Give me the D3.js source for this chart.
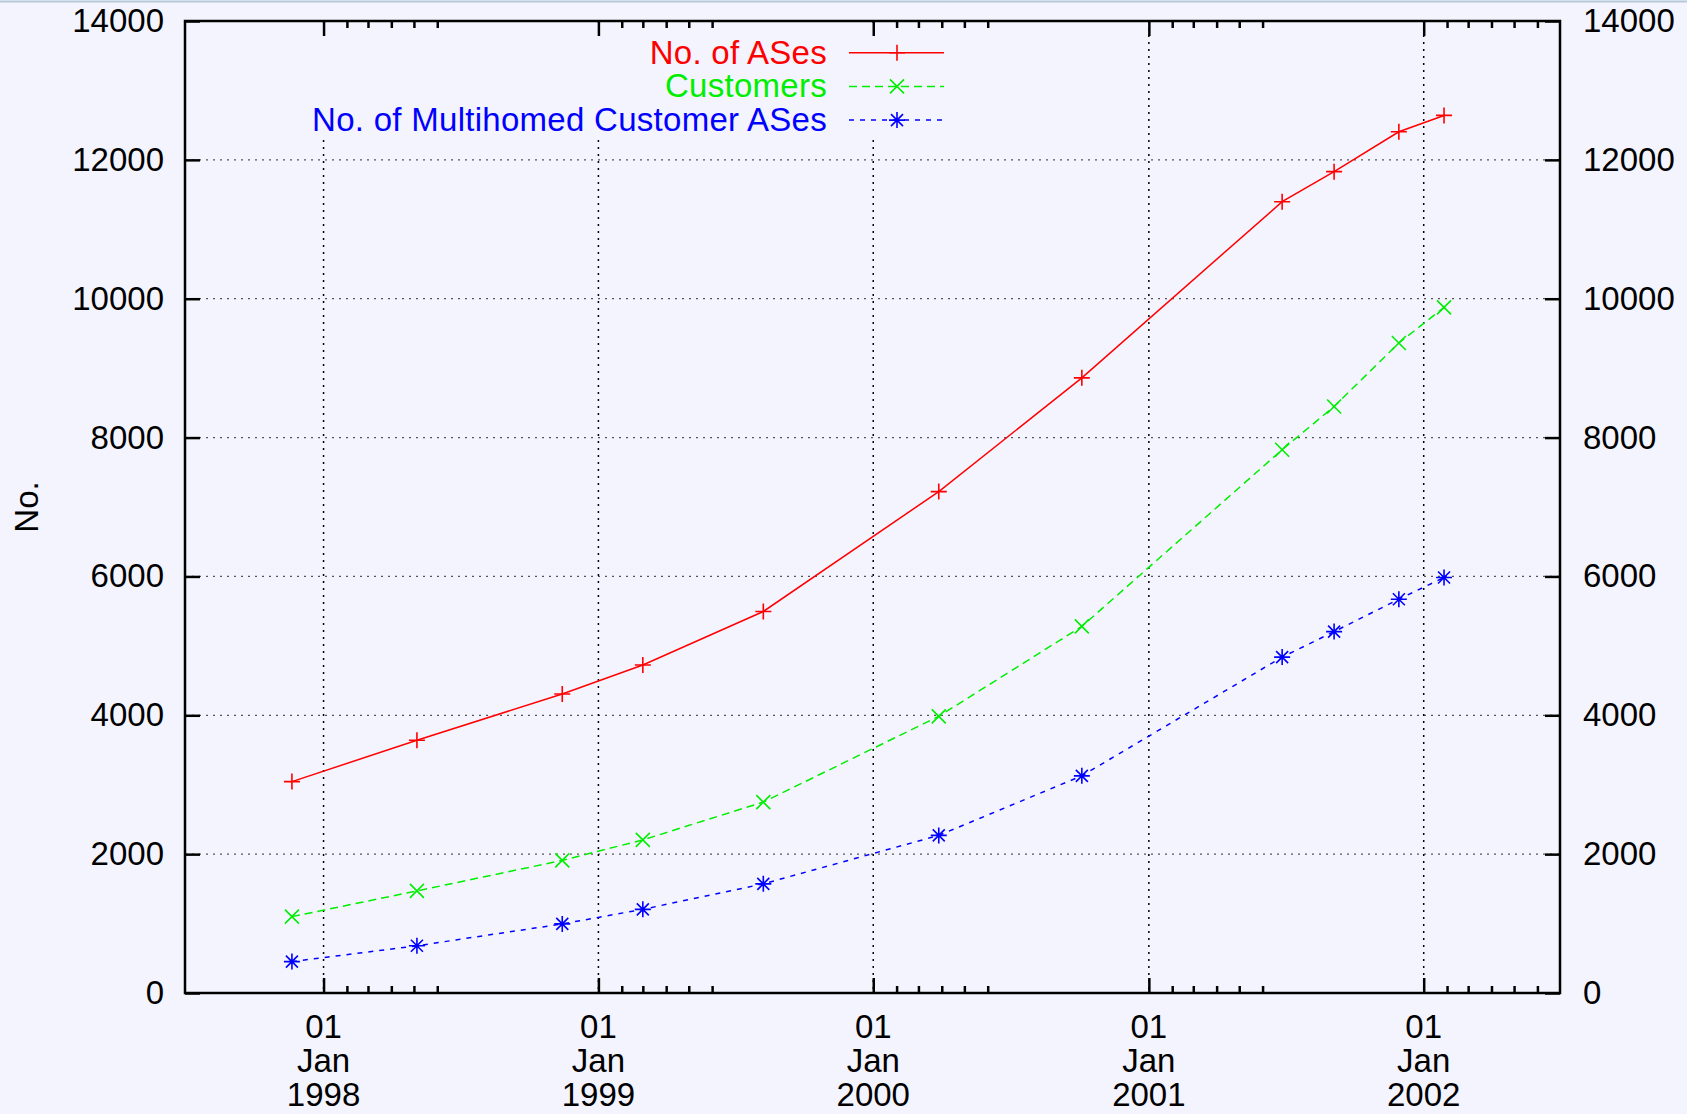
<!DOCTYPE html>
<html>
<head>
<meta charset="utf-8">
<script src="https://d3js.org/d3.v7.min.js"></script>
<style>
  body { margin: 0; background: #f4f4fe; }
  svg { display: block; }
  text { font-family: "Liberation Sans", Arial, Helvetica, sans-serif; fill: #000; }
</style>
</head>
<body>
<script>
// Dimensions
const width  = 1687;
const height = 1114;
const plotLeft = 185, plotRight = 1560, plotTop = 21, plotBottom = 993;
const fontSize = 33;

// Data
const dates = ["1997-11-20", "1998-05-05", "1998-11-14", "1999-03-01", "1999-08-08",
               "2000-03-28", "2000-10-04", "2001-06-27", "2001-09-04", "2001-11-29", "2002-01-28"];
const numASes     = [3045, 3640, 4307, 4724, 5495, 7222, 8860, 11397, 11830, 12405, 12640];
const customers   = [1100, 1470, 1910, 2205, 2750, 3985, 5280, 7825, 8448, 9362, 9875];
const multihomed  = [452, 680, 995, 1205, 1572, 2270, 3128, 4838, 5205, 5672, 5985];
const yTicks      = [0, 2000, 4000, 6000, 8000, 10000, 12000, 14000];
const yearTicks   = [1998, 1999, 2000, 2001, 2002];
const seriesNames = ["No. of ASes", "Customers", "No. of Multihomed Customer ASes"];

const parse = d3.timeParse("%Y-%m-%d");

const svg = d3.select("body").append("svg")
  .attr("width", width)
  .attr("height", height);

svg.append("rect").attr("width", width).attr("height", height).attr("fill", "#f4f4fe");
svg.append("line").attr("x1", 0).attr("x2", width).attr("y1", 1.5).attr("y2", 1.5)
  .attr("stroke", "#b3c9da").attr("stroke-width", 2);

// scales
const x = d3.scaleTime()
  .domain([new Date(1997, 6, 1), new Date(2002, 6, 1)])
  .range([plotLeft, plotRight]);
const y = d3.scaleLinear().domain([0, 14000]).range([plotBottom, plotTop]);

const yearDates = yearTicks.map(yr => new Date(yr, 0, 1));
// gnuplot style minor ticks: Feb..Jun after each January
const minorDates = [];
yearTicks.forEach(yr => { for (let m = 1; m <= 5; m++) minorDates.push(new Date(yr, m, 1)); });

// grid
const grid = svg.append("g");
grid.selectAll(".hg").data(yTicks.filter(v => v > 0 && v < 14000)).join("line")
  .attr("x1", plotLeft).attr("x2", plotRight)
  .attr("y1", d => y(d)).attr("y2", d => y(d))
  .attr("stroke", "#555").attr("stroke-width", 1.3).attr("stroke-dasharray", "2,5");
grid.selectAll(".vg").data(yearDates).join("line")
  .attr("x1", d => x(d)).attr("x2", d => x(d))
  .attr("y1", plotTop).attr("y2", plotBottom)
  .attr("stroke", "#000").attr("stroke-width", 1.5).attr("stroke-dasharray", "2,5");

// legend box hides grid under the key
svg.append("rect").attr("x", 300).attr("y", plotTop + 2).attr("width", 650).attr("height", 114)
  .attr("fill", "#f4f4fe");

// axes
function styleAxis(g) {
  g.select(".domain").remove();
  g.selectAll(".tick line").attr("stroke", "#000").attr("stroke-width", 2.5);
  g.selectAll("text").attr("font-size", fontSize).attr("fill", "#000")
    .attr("font-family", "'Liberation Sans', Arial, sans-serif");
}

svg.append("g").attr("transform", `translate(${plotLeft},0)`)
  .call(d3.axisLeft(y).tickValues(yTicks).tickSize(-15).tickPadding(21).tickFormat(d3.format("d")))
  .call(styleAxis);
svg.append("g").attr("transform", `translate(${plotRight},0)`)
  .call(d3.axisRight(y).tickValues(yTicks).tickSize(-15).tickPadding(23).tickFormat(d3.format("d")))
  .call(styleAxis);

svg.append("g").attr("transform", `translate(0,${plotBottom})`)
  .call(d3.axisBottom(x).tickValues(yearDates).tickSize(-15).tickFormat(""))
  .call(styleAxis);
svg.append("g").attr("transform", `translate(0,${plotTop})`)
  .call(d3.axisTop(x).tickValues(yearDates).tickSize(-15).tickFormat(""))
  .call(styleAxis);
svg.append("g").attr("transform", `translate(0,${plotBottom})`)
  .call(d3.axisBottom(x).tickValues(minorDates).tickSize(-7).tickFormat(""))
  .call(styleAxis);
svg.append("g").attr("transform", `translate(0,${plotTop})`)
  .call(d3.axisTop(x).tickValues(minorDates).tickSize(-7).tickFormat(""))
  .call(styleAxis);

// x tick labels (three lines)
const xl = svg.append("g").selectAll("text").data(yearDates).join("text")
  .attr("text-anchor", "middle").attr("font-size", fontSize);
xl.append("tspan").attr("x", d => x(d)).attr("y", 1038).text(d3.timeFormat("%d"));
xl.append("tspan").attr("x", d => x(d)).attr("y", 1072).text(d3.timeFormat("%b"));
xl.append("tspan").attr("x", d => x(d)).attr("y", 1106).text(d3.timeFormat("%Y"));

// frame
svg.append("rect").attr("x", plotLeft).attr("y", plotTop)
  .attr("width", plotRight - plotLeft).attr("height", plotBottom - plotTop)
  .attr("fill", "none").attr("stroke", "#000").attr("stroke-width", 2.5);

// y title
svg.append("text").attr("transform", `translate(38,507) rotate(-90)`)
  .attr("text-anchor", "middle").attr("font-size", fontSize).text("No.");

// series
const markers = {
  plus:  "M-8,0H8M0,-8V8",
  cross: "M-7,-7L7,7M-7,7L7,-7",
  star:  "M-8,0H8M0,-8V8M-6,-6L6,6M-6,6L6,-6"
};
const series = [
  { name: seriesNames[0], values: numASes,    color: "#ff0000", dash: null,  mark: markers.plus },
  { name: seriesNames[1], values: customers,  color: "#00ee00", dash: "8,5", mark: markers.cross },
  { name: seriesNames[2], values: multihomed, color: "#0000ff", dash: "5,6", mark: markers.star }
];

const line = d3.line().x(d => x(d.date)).y(d => y(d.value));

series.forEach((s, i) => {
  const pts = dates.map((d, j) => ({ date: parse(d), value: s.values[j] }));
  svg.append("path").datum(pts)
    .attr("fill", "none").attr("stroke", s.color).attr("stroke-width", 1.5)
    .attr("stroke-dasharray", s.dash)
    .attr("d", line);
  svg.append("g").selectAll("path").data(pts).join("path")
    .attr("transform", d => `translate(${x(d.date)},${y(d.value)})`)
    .attr("d", s.mark).attr("fill", "none").attr("stroke", s.color).attr("stroke-width", 1.6);

  // legend
  const ly = 52.7 + i * 33.7;
  svg.append("text").attr("x", 827).attr("y", ly + 11).attr("text-anchor", "end")
    .attr("font-size", fontSize).attr("letter-spacing", 0.28)
    .style("fill", s.color).text(s.name);
  svg.append("line").attr("x1", 849).attr("x2", 944).attr("y1", ly).attr("y2", ly)
    .attr("stroke", s.color).attr("stroke-width", 1.5).attr("stroke-dasharray", s.dash);
  svg.append("path").attr("transform", `translate(897,${ly})`)
    .attr("d", s.mark).attr("fill", "none").attr("stroke", s.color).attr("stroke-width", 1.6);
});
</script>
</body>
</html>
